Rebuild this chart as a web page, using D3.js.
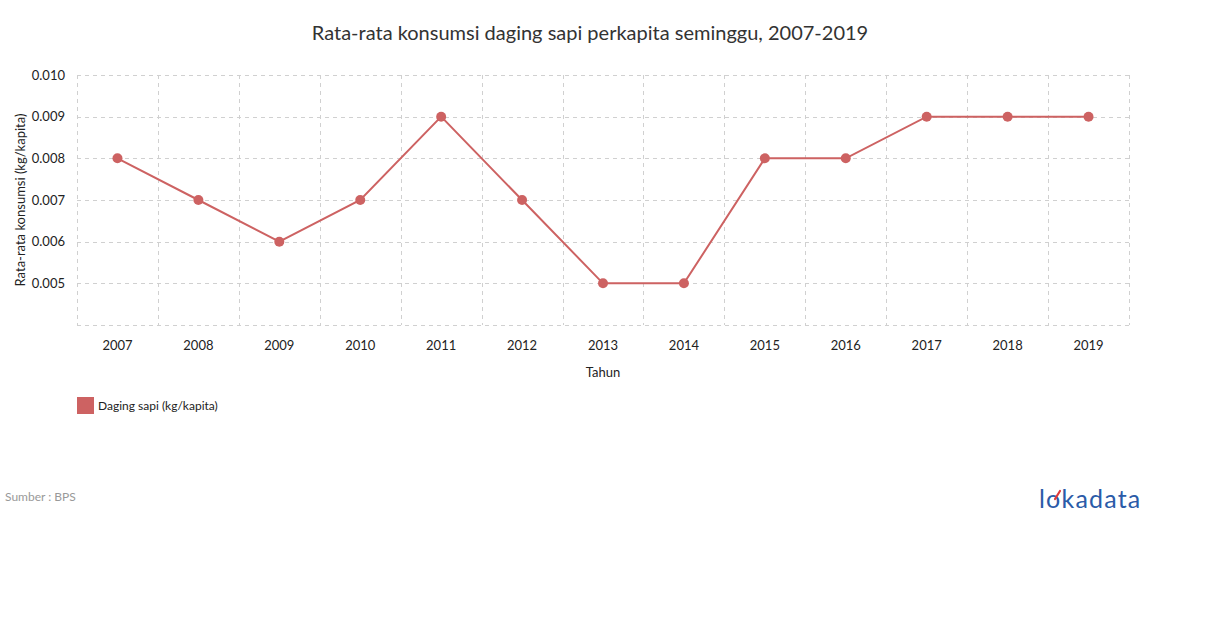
<!DOCTYPE html>
<html>
<head>
<meta charset="utf-8">
<script src="https://cdn.jsdelivr.net/npm/d3@7"></script>
<style>
  html, body { margin: 0; padding: 0; background: #fff; }
  svg { display: block; font-family: Lato, "Open Sans", sans-serif; }
</style>
</head>
<body>
<svg id="chart" width="1210" height="628"></svg>
<script>
const years = ["2007","2008","2009","2010","2011","2012","2013","2014","2015","2016","2017","2018","2019"];
const values = [0.008, 0.007, 0.006, 0.007, 0.009, 0.007, 0.005, 0.005, 0.008, 0.008, 0.009, 0.009, 0.009];
const yTicks = [0.004, 0.005, 0.006, 0.007, 0.008, 0.009, 0.010];
const yLabelTicks = [0.005, 0.006, 0.007, 0.008, 0.009, 0.010];
const seriesName = "Daging sapi (kg/kapita)";
const titleText = "Rata-rata konsumsi daging sapi perkapita seminggu, 2007-2019";
const yTitle = "Rata-rata konsumsi (kg/kapita)";
const xTitle = "Tahun";
const sourceText = "Sumber : BPS";

const color = "#cd6262";
const gridColor = "#d0d0d0";

const svg = d3.select("#chart");
const pL = 77, pR = 1129, pT = 75, pB = 325;

const x = d3.scaleBand().domain(years).range([pL, pR]);
const y = d3.scaleLinear().domain([0.004, 0.010]).range([pB, pT]);

// title
svg.append("text").attr("x", 590).attr("y", 40).attr("text-anchor", "middle")
  .attr("font-size", 20).attr("fill", "#333").text(titleText);

// grid
const g = svg.append("g");
yTicks.forEach(t => {
  g.append("line").attr("x1", pL).attr("x2", pR)
    .attr("y1", Math.round(y(t)) + 0.5).attr("y2", Math.round(y(t)) + 0.5)
    .attr("stroke", gridColor).attr("stroke-dasharray", "4,4");
});
const xb = years.map(d => x(d)).concat([pR]);
xb.forEach(v => {
  g.append("line").attr("x1", Math.round(v) + 0.5).attr("x2", Math.round(v) + 0.5)
    .attr("y1", pT).attr("y2", pB)
    .attr("stroke", gridColor).attr("stroke-dasharray", "4,4");
});

// y axis labels
const yAxis = svg.append("g").attr("transform", `translate(${pL - 12},0)`)
  .call(d3.axisLeft(y).tickValues(yLabelTicks).tickFormat(d3.format(".3f")).tickSize(0).tickPadding(0));
yAxis.select(".domain").remove();
yAxis.selectAll("text").attr("font-size", 13).attr("fill", "#222").attr("font-family", "Lato, sans-serif");

// x axis labels
const xAxis = svg.append("g").attr("transform", `translate(0,${pB})`)
  .call(d3.axisBottom(x).tickSize(0).tickPadding(16));
xAxis.select(".domain").remove();
xAxis.selectAll("text").attr("font-size", 13).attr("fill", "#222").attr("font-family", "Lato, sans-serif");

// axis titles
svg.append("text").attr("transform", "translate(25,200) rotate(-90)")
  .attr("text-anchor", "middle").attr("font-size", 13).attr("fill", "#222").text(yTitle);
svg.append("text").attr("x", 603).attr("y", 377).attr("text-anchor", "middle")
  .attr("font-size", 13).attr("fill", "#222").text(xTitle);

// line
const line = d3.line().x((d, i) => x(years[i]) + x.bandwidth() / 2).y(d => y(d));
svg.append("path").datum(values).attr("d", line).attr("fill", "none")
  .attr("stroke", color).attr("stroke-width", 2);
svg.selectAll("circle.pt").data(values).enter().append("circle")
  .attr("cx", (d, i) => x(years[i]) + x.bandwidth() / 2).attr("cy", d => y(d))
  .attr("r", 5).attr("fill", color);

// legend
svg.append("rect").attr("x", 77).attr("y", 397).attr("width", 17).attr("height", 17).attr("fill", color);
svg.append("text").attr("x", 98).attr("y", 406).attr("dy", "0.35em")
  .attr("font-size", 12).attr("fill", "#222").text(seriesName);

// source
svg.append("text").attr("x", 5).attr("y", 501).attr("font-size", 12).attr("fill", "#999").text(sourceText);

// logo
svg.append("text").attr("x", 1039).attr("y", 508).attr("font-size", 25)
  .attr("fill", "#2b5ba8").attr("font-family", "Lato, sans-serif").attr("letter-spacing", 1.2)
  .text("lokadata");
svg.append("line").attr("x1", 1055).attr("y1", 499).attr("x2", 1060).attr("y2", 491)
  .attr("stroke", "#e03a3a").attr("stroke-width", 2.2).attr("stroke-linecap", "round");
</script>
</body>
</html>
